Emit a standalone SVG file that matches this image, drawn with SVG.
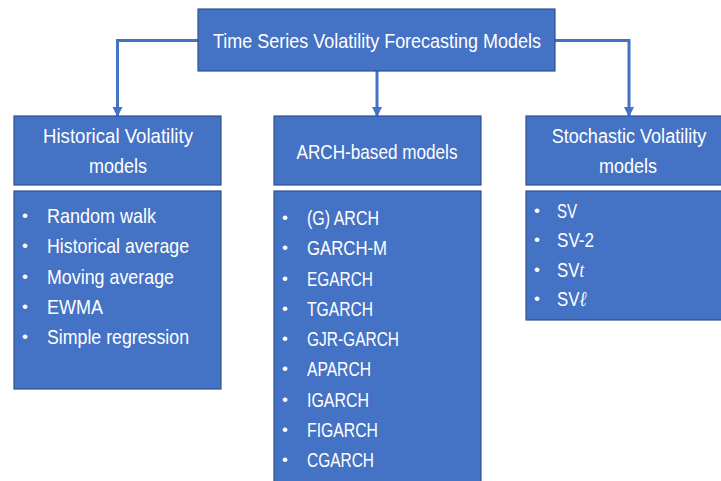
<svg xmlns="http://www.w3.org/2000/svg" width="721" height="481" viewBox="0 0 721 481">
<style>
.box{fill:#4472C4;stroke:#2F528F;stroke-width:1.2}
text{font-family:"Liberation Sans",Arial,sans-serif;fill:#FFFFFF;font-size:21px}
.h{font-size:21px;text-anchor:middle}
.b{text-anchor:middle;font-size:17px}
.conn{fill:none;stroke:#4472C4;stroke-width:3}
</style>
<defs>
<marker id="ah" viewBox="0 0 10 10" refX="9" refY="5" markerWidth="3.4" markerHeight="3.4" orient="auto" markerUnits="strokeWidth">
<path d="M0,0 L10,5 L0,10 Z" fill="#4472C4"/>
</marker>
</defs>
<rect width="721" height="481" fill="#FFFFFF"/>
<g id="connectors">
<path class="conn" d="M198,40.5 H117.5 V116" marker-end="url(#ah)"/>
<path class="conn" d="M377,71 V116" marker-end="url(#ah)"/>
<path class="conn" d="M555,40.5 H629 V116" marker-end="url(#ah)"/>
</g>
<g id="root">
<rect class="box" x="198" y="9" width="357" height="62"/>
<text class="h" x="377" y="48" textLength="328" lengthAdjust="spacingAndGlyphs">Time Series Volatility Forecasting Models</text>
</g>
<g id="historical-header">
<rect class="box" x="14" y="116" width="207" height="69"/>
<text class="h" x="118" y="143" textLength="150" lengthAdjust="spacingAndGlyphs">Historical Volatility</text>
<text class="h" x="118" y="173" textLength="58" lengthAdjust="spacingAndGlyphs">models</text>
</g>
<g id="historical-list">
<rect class="box" x="14" y="191" width="207" height="198"/>
<text class="b" x="25" y="221">•</text><text x="47" y="223" textLength="109" lengthAdjust="spacingAndGlyphs">Random walk</text>
<text class="b" x="25" y="251">•</text><text x="47" y="253" textLength="142" lengthAdjust="spacingAndGlyphs">Historical average</text>
<text class="b" x="25" y="282">•</text><text x="47" y="284" textLength="127" lengthAdjust="spacingAndGlyphs">Moving average</text>
<text class="b" x="25" y="312">•</text><text x="47" y="314" textLength="56" lengthAdjust="spacingAndGlyphs">EWMA</text>
<text class="b" x="25" y="342">•</text><text x="47" y="344" textLength="142" lengthAdjust="spacingAndGlyphs">Simple regression</text>
</g>
<g id="arch-header">
<rect class="box" x="274" y="116" width="207" height="69"/>
<text class="h" x="377" y="159" textLength="161" lengthAdjust="spacingAndGlyphs">ARCH-based models</text>
</g>
<g id="arch-list">
<rect class="box" x="274" y="191" width="207" height="295"/>
<text class="b" x="285" y="223">•</text><text x="307" y="225" textLength="72" lengthAdjust="spacingAndGlyphs">(G) ARCH</text>
<text class="b" x="285" y="253">•</text><text x="307" y="255" textLength="80" lengthAdjust="spacingAndGlyphs">GARCH-M</text>
<text class="b" x="285" y="284">•</text><text x="307" y="286" textLength="66" lengthAdjust="spacingAndGlyphs">EGARCH</text>
<text class="b" x="285" y="314">•</text><text x="307" y="316" textLength="66" lengthAdjust="spacingAndGlyphs">TGARCH</text>
<text class="b" x="285" y="344">•</text><text x="307" y="346" textLength="92" lengthAdjust="spacingAndGlyphs">GJR-GARCH</text>
<text class="b" x="285" y="374">•</text><text x="307" y="376" textLength="64" lengthAdjust="spacingAndGlyphs">APARCH</text>
<text class="b" x="285" y="405">•</text><text x="307" y="407" textLength="62" lengthAdjust="spacingAndGlyphs">IGARCH</text>
<text class="b" x="285" y="435">•</text><text x="307" y="437" textLength="71" lengthAdjust="spacingAndGlyphs">FIGARCH</text>
<text class="b" x="285" y="465">•</text><text x="307" y="467" textLength="67" lengthAdjust="spacingAndGlyphs">CGARCH</text>
</g>
<g id="sv-header">
<rect class="box" x="526" y="116" width="196" height="69"/>
<text class="h" transform="translate(629,143) scale(0.86,1)">Stochastic Volatility</text>
<text class="h" x="628" y="173" textLength="58" lengthAdjust="spacingAndGlyphs">models</text>
</g>
<g id="sv-list">
<rect class="box" x="526" y="191" width="196" height="129"/>
<text class="b" x="537" y="216">•</text><text x="557" y="218" textLength="20" lengthAdjust="spacingAndGlyphs">SV</text>
<text class="b" x="537" y="245">•</text><text x="557" y="247" textLength="37" lengthAdjust="spacingAndGlyphs">SV-2</text>
<text class="b" x="537" y="275">•</text><text transform="translate(557,277) scale(0.8,1)">SV<tspan font-family="'Liberation Serif',serif" font-style="italic">t</tspan></text>
<text class="b" x="537" y="304">•</text><text transform="translate(557,306) scale(0.8,1)">SV<tspan font-family="'DejaVu Serif',serif" font-style="italic">ℓ</tspan></text>
</g>
</svg>
